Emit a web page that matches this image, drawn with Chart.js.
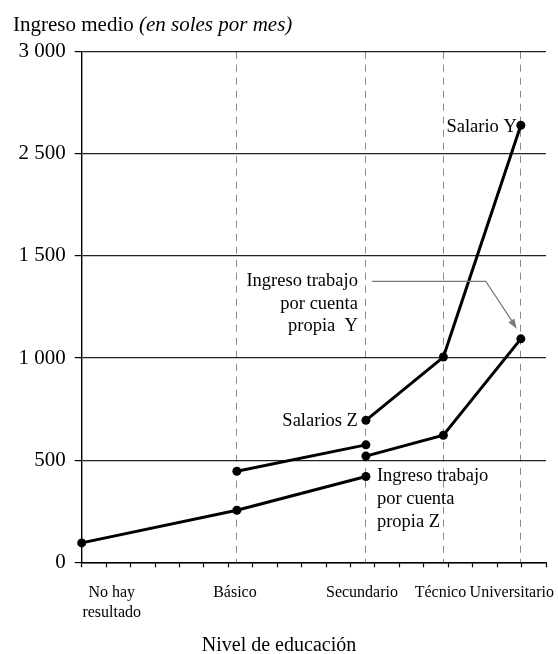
<!DOCTYPE html>
<html><head><meta charset="utf-8">
<script src="https://cdn.jsdelivr.net/npm/chart.js@4.4.1/dist/chart.umd.min.js"></script>
<style>html,body{margin:0;padding:0;background:#fff;}#wrap{width:558px;height:654px;position:relative}</style>
</head><body><div id="wrap"><canvas id="c" width="558" height="654"></canvas></div>
<script>
// ---- data ----
const categories = [['No hay', 'resultado'], 'Básico', 'Secundario', 'Técnico', 'Universitario'];
const educationX = [0, 6.35, 11.63, 14.8, 17.97];          // position of each level on the x scale (0..19)
const yTickValues = [0, 500, 1000, 1500, 2500, 3000];
const yTickLabels = ['0', '500', '1 000', '1 500', '2 500', '3 000'];
const salarios       = [null, null, 695, 1005, 2640];   // Salarios Z -> Salario Y
const propiaY        = [null, null, 520, 622, 1094];    // Ingreso trabajo por cuenta propia Y
const salariosBasico = [null, 446, 575, null, null];
const propiaZ        = [95, 255, 420, null, null];      // Ingreso trabajo por cuenta propia Z
const xTitle = 'Nivel de educación';

// ---- helpers ----
const FONT = "'Liberation Serif','Times New Roman',serif";
const labelShift = [1.23, -0.08, -0.16, -0.12, -0.37];
// axis shows the labelled ticks equally spaced: map a value onto that axis
function toPos(v) {
  for (let i = 0; i < yTickValues.length - 1; i++) {
    if (v <= yTickValues[i + 1]) return i + (v - yTickValues[i]) / (yTickValues[i + 1] - yTickValues[i]);
  }
  return yTickValues.length - 1;
}
function series(vals) {
  return educationX.map((x, i) => vals[i] == null ? null : { x: x, y: toPos(vals[i]) }).filter(p => p);
}
function ds(vals) {
  return {
    data: series(vals), borderColor: '#000', backgroundColor: '#000', borderWidth: 3,
    pointRadius: 4.5, pointHoverRadius: 4.5, pointBorderWidth: 0, pointBackgroundColor: '#000',
    tension: 0, clip: false, xAxisID: 'x', yAxisID: 'y'
  };
}
function noPad(s) { s.paddingLeft = 0; s.paddingRight = 0; s.paddingTop = 0; s.paddingBottom = 0; }

const textPlugin = {
  id: 'texts',
  afterDraw(chart) {
    const { ctx } = chart;
    const x = chart.scales.x, y = chart.scales.y;
    const px = i => x.getPixelForValue(educationX[i]);
    const py = v => y.getPixelForValue(toPos(v));
    ctx.save();
    // title
    ctx.fillStyle = '#000';
    ctx.textAlign = 'left';
    ctx.textBaseline = 'alphabetic';
    ctx.font = '21px ' + FONT;
    ctx.fillText('Ingreso medio ', 13, 30.7);
    const w = ctx.measureText('Ingreso medio ').width;
    ctx.font = 'italic 21px ' + FONT;
    ctx.fillText('(en soles por mes)', 13 + w, 30.7);

    // x axis title, centred on the page
    ctx.font = '20px ' + FONT;
    ctx.textAlign = 'center';
    ctx.fillText(xTitle, chart.width / 2, 651);

    // annotations
    ctx.font = '18.5px ' + FONT;
    ctx.textBaseline = 'middle';
    ctx.textAlign = 'right';
    ctx.fillText('Salario Y', px(4) - 4, py(salarios[4]) + 2);
    ctx.fillText('Salarios Z', px(2) - 8, py(salarios[2]) + 1);
    const ly = py(1375);
    ['Ingreso trabajo', 'por cuenta', 'propia  Y'].forEach((t, k) => ctx.fillText(t, px(2) - 8, ly + k * 22.5));
    ctx.textAlign = 'left';
    ['Ingreso trabajo', 'por cuenta', 'propia Z'].forEach((t, k) => ctx.fillText(t, px(2) + 11, py(propiaZ[2]) + k * 23));

    // arrow
    const sx = px(2) + 6, sy = ly;
    const bx = px(4) - 35;
    const tx = px(4) - 4, ty = py(propiaY[4]) - 10;
    ctx.strokeStyle = '#7a7a7a';
    ctx.fillStyle = '#7a7a7a';
    ctx.lineWidth = 1.2;
    ctx.beginPath();
    ctx.moveTo(sx, sy); ctx.lineTo(bx, sy); ctx.lineTo(tx - 3, ty - 5);
    ctx.stroke();
    const a = Math.atan2(ty - sy, tx - bx);
    const L = 10, H = 3.5;
    ctx.beginPath();
    ctx.moveTo(tx, ty);
    ctx.lineTo(tx - L * Math.cos(a) + H * Math.sin(a), ty - L * Math.sin(a) - H * Math.cos(a));
    ctx.lineTo(tx - L * Math.cos(a) - H * Math.sin(a), ty - L * Math.sin(a) + H * Math.cos(a));
    ctx.closePath();
    ctx.fill();
    ctx.restore();
  }
};

new Chart(document.getElementById('c'), {
  type: 'line',
  data: { datasets: [ds(propiaZ), ds(salariosBasico), ds(propiaY), ds(salarios)] },
  options: {
    responsive: false, animation: false, devicePixelRatio: 1,
    layout: { padding: { left: 0, top: 51.7, right: 12, bottom: 0 } },
    plugins: { legend: { display: false }, tooltip: { enabled: false }, title: { display: false } },
    scales: {
      x: {
        type: 'linear', min: 0, max: 19, position: 'bottom', weight: 0,
        afterBuildTicks: s => { s.ticks = Array.from({ length: 20 }, (_, i) => ({ value: i })); },
        ticks: { autoSkip: false, maxRotation: 0, callback: () => '', font: { size: 1 } },
        grid: { drawOnChartArea: false, drawTicks: true, tickLength: 5, color: '#000', tickColor: '#000', tickWidth: 1.2 },
        border: { display: true, color: '#000', width: 1.4 },
        afterFit: s => { s.height = 5; noPad(s); }
      },
      xg: {
        type: 'linear', min: 0, max: 19, position: 'bottom', weight: 1,
        afterBuildTicks: s => { s.ticks = educationX.slice(1).map(v => ({ value: v })); },
        ticks: { display: false, autoSkip: false },
        grid: { drawOnChartArea: true, drawTicks: false, color: '#8a8a8a', lineWidth: 1 },
        border: { display: false, dash: [7, 6] },
        afterFit: s => { s.height = 0; noPad(s); }
      },
      xl: {
        type: 'linear', min: 0, max: 19, position: 'bottom', weight: 2,
        afterBuildTicks: s => { s.ticks = educationX.map((v, i) => ({ value: v + labelShift[i] })); },
        ticks: {
          autoSkip: false, maxRotation: 0, minRotation: 0, padding: 15.6, color: '#000',
          font: { family: FONT, size: 16, lineHeight: 1.25 },
          callback: (v, i) => categories[i]
        },
        grid: { display: false, drawTicks: false },
        border: { display: false },
        title: { display: false },
        afterFit: s => { s.height = 86.7; noPad(s); }
      },
      y: {
        type: 'linear', min: 0, max: 5, position: 'left',
        afterBuildTicks: s => { s.ticks = yTickLabels.map((_, i) => ({ value: i })); },
        ticks: { autoSkip: false, padding: 9, color: '#000', font: { family: FONT, size: 21 },
                 callback: (v, i) => yTickLabels[i] },
        grid: { color: '#222', lineWidth: 1.2, drawTicks: true, tickLength: 7, tickColor: '#000' },
        border: { display: true, color: '#000', width: 1.4 },
        afterFit: s => { s.width = 81.7; noPad(s); }
      }
    }
  },
  plugins: [textPlugin]
});
</script>
</body></html>
